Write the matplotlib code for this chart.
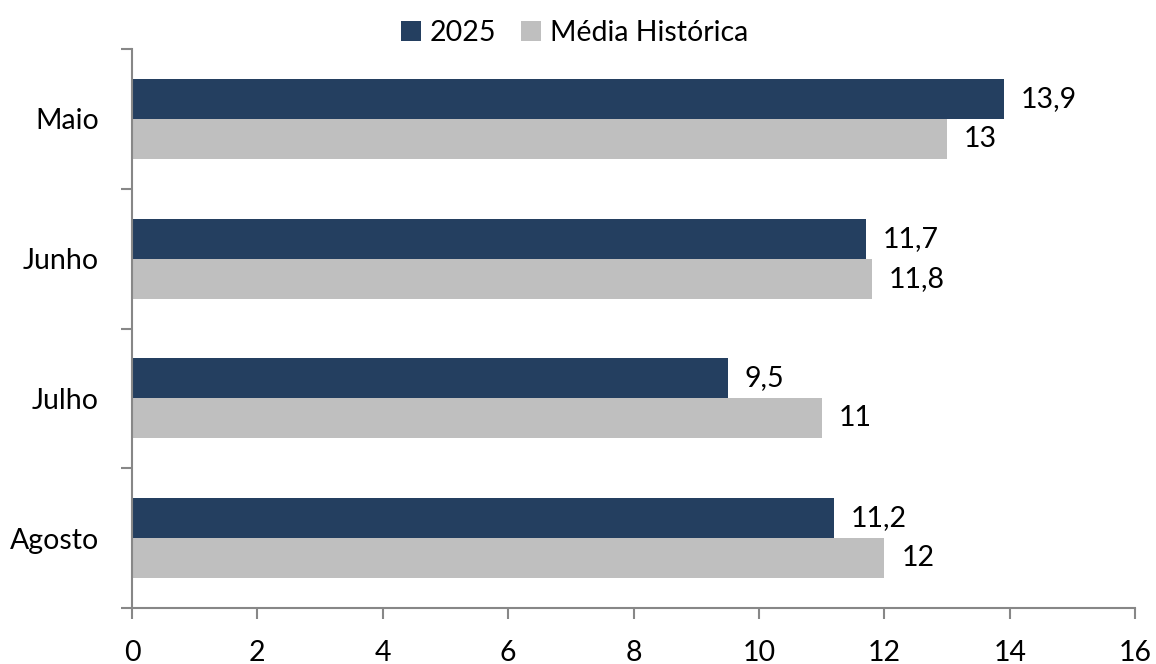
import matplotlib
matplotlib.use("Agg")
import matplotlib.pyplot as plt
import numpy as np

categories = ["Maio", "Junho", "Julho", "Agosto"]
values_2025 = [13.9, 11.7, 9.5, 11.2]
values_hist = [13.0, 11.8, 11.0, 12.0]
labels_2025 = ["13,9", "11,7", "9,5", "11,2"]
labels_hist = ["13", "11,8", "11", "12"]
xticks = [0, 2, 4, 6, 8, 10, 12, 14, 16]

plt.rcParams['font.family'] = ['Lato', 'DejaVu Sans']
FS = 20.5
navy = "#243F60"
gray = "#BFBFBF"
spine = "#878787"

fig = plt.figure(figsize=(11.56, 6.64), dpi=100)
ax = fig.add_axes([0.1142, 0.0843, 0.982 - 0.1142, 0.9262 - 0.0843])

n = len(categories)
pos = np.arange(n)
h = 0.2857
b1 = ax.barh(pos - h/2, values_2025, height=h, color=navy, label="2025")
b2 = ax.barh(pos + h/2, values_hist, height=h, color=gray, label="Média Histórica")

for p, v, t in zip(pos, values_2025, labels_2025):
    ax.text(v + 0.27, p - h/2, t, va="center", ha="left", fontsize=FS)
for p, v, t in zip(pos, values_hist, labels_hist):
    ax.text(v + 0.27, p + h/2, t, va="center", ha="left", fontsize=FS)

ax.set_xlim(0, 16)
ax.set_ylim(n - 0.5, -0.5)
ax.set_xticks(xticks)
ax.set_xticklabels([str(x) for x in xticks], fontsize=FS)
ax.set_yticks(pos)
ax.set_yticklabels(categories, fontsize=FS)
ax.set_yticks(np.arange(-0.5, n, 1.0), minor=True)
ax.tick_params(axis="y", which="major", length=0, pad=24)
ax.tick_params(axis="y", which="minor", length=8, color=spine, width=1.5)
ax.tick_params(axis="x", length=8, color=spine, width=1.5, pad=15)

for s in ["top", "right"]:
    ax.spines[s].set_visible(False)
for s in ["left", "bottom"]:
    ax.spines[s].set_color(spine)
    ax.spines[s].set_linewidth(1.5)

leg = fig.legend(handles=[b1, b2], loc="upper center", bbox_to_anchor=(0.497, 1.008),
                 ncol=2, frameon=False, fontsize=FS, handlelength=0.7, handleheight=0.7,
                 handletextpad=0.3, columnspacing=0.9)

fig.savefig("out.png", dpi=100)
